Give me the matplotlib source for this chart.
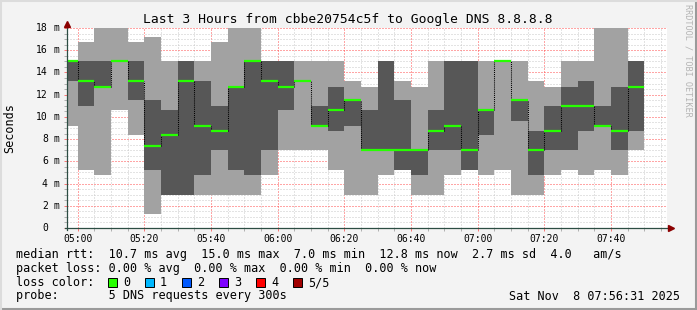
import matplotlib
matplotlib.use("Agg")
import matplotlib.pyplot as plt
import matplotlib.transforms as mtransforms
from matplotlib.patches import Rectangle
import numpy as np

# 5 pings per 5-minute step, sorted fastest..slowest (milliseconds)
# first step is 04:55-05:00, last one 07:45-07:50
ping1 = [9.2, 5.2, 4.8, 10.6, 8.4, 1.3, 3.0, 3.0, 3.0, 3.0, 3.0, 3.0,
         4.8, 7.0, 7.0, 7.0, 5.2, 3.0, 3.0, 4.8, 5.2, 3.0, 3.0, 4.8,
         5.2, 4.8, 5.2, 3.0, 3.0, 4.8, 5.2, 4.8, 5.2, 4.8, 7.0]
ping2 = [13.2, 11.0, 12.7, 15.0, 11.5, 5.2, 3.0, 3.0, 4.8, 7.0, 5.2, 4.8,
         7.0, 10.6, 13.2, 9.2, 8.7, 9.2, 7.0, 7.0, 5.2, 4.8, 7.0, 7.0,
         5.2, 8.4, 15.0, 9.6, 4.8, 7.0, 7.0, 8.7, 9.2, 7.0, 8.7]
median = [15.0, 13.2, 12.7, 15.0, 13.2, 7.4, 8.4, 13.2, 9.2, 8.7, 12.7, 15.0,
          13.2, 12.7, 13.2, 9.2, 10.6, 11.5, 7.0, 7.0, 7.0, 7.0, 8.7, 9.2,
          7.0, 10.6, 15.0, 11.5, 7.0, 8.7, 11.0, 11.0, 9.2, 8.7, 12.7]
ping4 = [15.0, 15.0, 15.0, 15.0, 15.0, 11.5, 10.6, 15.0, 13.2, 11.0, 12.7, 15.0,
         15.0, 15.0, 13.2, 11.0, 12.7, 11.5, 10.6, 15.0, 11.5, 7.0, 10.6, 15.0,
         15.0, 10.6, 15.0, 11.5, 8.7, 11.0, 12.7, 13.2, 11.0, 12.7, 15.0]
ping5 = [15.0, 16.7, 18.0, 18.0, 16.7, 17.2, 15.0, 15.0, 15.0, 16.7, 18.0, 18.0,
         15.0, 15.0, 15.0, 15.0, 15.0, 13.2, 12.7, 15.0, 13.2, 12.7, 15.0, 15.0,
         15.0, 15.0, 15.0, 15.0, 13.2, 12.7, 15.0, 15.0, 18.0, 18.0, 15.0]

tick_labels = ["05:00", "05:20", "05:40", "06:00", "06:20",
               "06:40", "07:00", "07:20", "07:40"]
y_labels = [0, 2, 4, 6, 8, 10, 12, 14, 16, 18]

title = "Last 3 Hours from cbbe20754c5f to Google DNS 8.8.8.8"
row_rtt = "median rtt:  10.7 ms avg  15.0 ms max  7.0 ms min  12.8 ms now  2.7 ms sd  4.0   am/s"
row_loss = "packet loss: 0.00 % avg  0.00 % max  0.00 % min  0.00 % now"
row_probe = "probe:       5 DNS requests every 300s"
stamp = "Sat Nov  8 07:56:31 2025"
loss_names = ["0", "1", "2", "3", "4", "5/5"]
loss_colors = ["#26ff00", "#00b8ff", "#0059ff", "#7e00ff", "#ff0000", "#a10000"]

plt.rcParams['font.family'] = ['DejaVu Sans Mono']

W, H = 697, 310
def fx(x):
    return x / W
def fy(y):
    return 1 - y / H

fig = plt.figure(figsize=(W / 100, H / 100), dpi=100)
fig.patch.set_facecolor('#f3f3f3')
ax = fig.add_axes([fx(67), fy(228), 600 / W, 200 / H])
ax.set_facecolor('white')

p1, p2, p3, p4, p5 = (np.array(a) for a in (ping1, ping2, median, ping4, ping5))
start = -5 + 5 * np.arange(len(p3))  # minutes from 05:00

light, dark, green = '#a2a2a2', '#575757', loss_colors[0]
ax.bar(start, p5 - p1, width=5, bottom=p1, align='edge', color=light, linewidth=0, zorder=2)
ax.bar(start, p4 - p2, width=5, bottom=p2, align='edge', color=dark, linewidth=0, zorder=2)
for i in range(1, len(p3)):
    if p3[i] != p3[i - 1]:
        ax.vlines(start[i], min(p3[i], p3[i - 1]), max(p3[i], p3[i - 1]),
                  colors='black', linestyles=(0, (1, 1)), linewidth=0.75, zorder=3)
ax.hlines(p3, start, start + 5, colors=green, linewidth=1.6, zorder=4)

ax.set_xlim(-3.2, 176.8)
ax.set_ylim(0, 18)

# grid: grey dotted every 5 min / 0.5 ms, red dotted every 20 min / 2 ms
ax.set_xticks(np.arange(0, 161, 20))
ax.set_xticks(np.arange(-0, 176, 5), minor=True)
ax.set_yticks(y_labels)
ax.set_yticks(np.arange(0, 18.01, 0.5), minor=True)
ax.grid(which='minor', color='#c8c8c8', linestyle=(0, (1, 2)), linewidth=0.72)
ax.grid(which='major', color=(1, 0.3, 0.3, 0.55), linestyle=(0, (1, 2)), linewidth=0.72)
ax.set_axisbelow(True)
ax.set_xticklabels(tick_labels, fontsize=7)
ax.set_yticklabels([])
ax.tick_params(axis='both', which='major', length=2, width=0.72, color=(1, 0, 0, 0.5))
ax.tick_params(axis='both', which='minor', length=2, width=0.72, color='#b0b0b0')
ax.tick_params(axis='x', pad=2.2)
for s in ax.spines.values():
    s.set_visible(False)

# y labels, rrdtool style ("18 m" ... " 0")
tr = mtransforms.blended_transform_factory(fig.transFigure, ax.transData)
for v in y_labels:
    ax.text(fx(47.8), v, str(v), transform=tr, ha='right', va='center', fontsize=7)
    if v:
        ax.text(fx(53.3), v, 'm', transform=tr, ha='left', va='center', fontsize=7)

# axes with arrows
axis_col = '#2c4d43'
ax.plot([-0.004, 1.002], [0, 0], transform=ax.transAxes, color=axis_col, lw=0.9, clip_on=False, zorder=5)
ax.plot([0, 0], [-0.01, 1.01], transform=ax.transAxes, color=axis_col, lw=0.9, clip_on=False, zorder=5)
ax.plot([1.006], [0], transform=ax.transAxes, marker='>', markersize=4, color='#8b0000',
        clip_on=False, zorder=6)
ax.plot([0], [1.02], transform=ax.transAxes, marker='^', markersize=4, color='#8b0000',
        clip_on=False, zorder=6)

# texts
fig.text(fx(348), fy(19), title, ha='center', va='center', fontsize=9.4)
fig.text(fx(10), fy(128), "Seconds", rotation=90, ha='center', va='center', fontsize=8.5)
fig.text(fx(688), fy(60), "RRDTOOL / TOBI OETIKER", rotation=270, ha='center', va='center',
         fontsize=6.1, color='#b4b4b4')
fig.text(fx(16), fy(254.5), row_rtt, ha='left', va='center', fontsize=8.5)
fig.text(fx(16), fy(268.5), row_loss, ha='left', va='center', fontsize=8.5)
fig.text(fx(16), fy(282.5), "loss color:", ha='left', va='center', fontsize=8.5)
fig.text(fx(16), fy(296), row_probe, ha='left', va='center', fontsize=8.5)
fig.text(fx(680), fy(296), stamp, ha='right', va='center', fontsize=8.5)
for i, (name, col) in enumerate(zip(loss_names, loss_colors)):
    bx = 108 + 37 * i
    fig.patches.append(Rectangle((fx(bx), fy(287)), 9 / W, 9 / H, transform=fig.transFigure,
                                 facecolor=col, edgecolor='black', linewidth=0.7))
    fig.text(fx(bx + 15), fy(282.5), name, ha='left', va='center', fontsize=8.5)

# frame shading
fig.add_artist(plt.Line2D([0, 1], [fy(309), fy(309)], transform=fig.transFigure, color='#9a9a9a', lw=1.5))
fig.add_artist(plt.Line2D([fx(696), fx(696)], [0, 1], transform=fig.transFigure, color='#9a9a9a', lw=1.5))
fig.add_artist(plt.Line2D([0, 1], [fy(1), fy(1)], transform=fig.transFigure, color='#dcdcdc', lw=1.5))
fig.add_artist(plt.Line2D([fx(1), fx(1)], [0, 1], transform=fig.transFigure, color='#dcdcdc', lw=1.5))

fig.savefig('out.png', dpi=100, facecolor=fig.get_facecolor())
